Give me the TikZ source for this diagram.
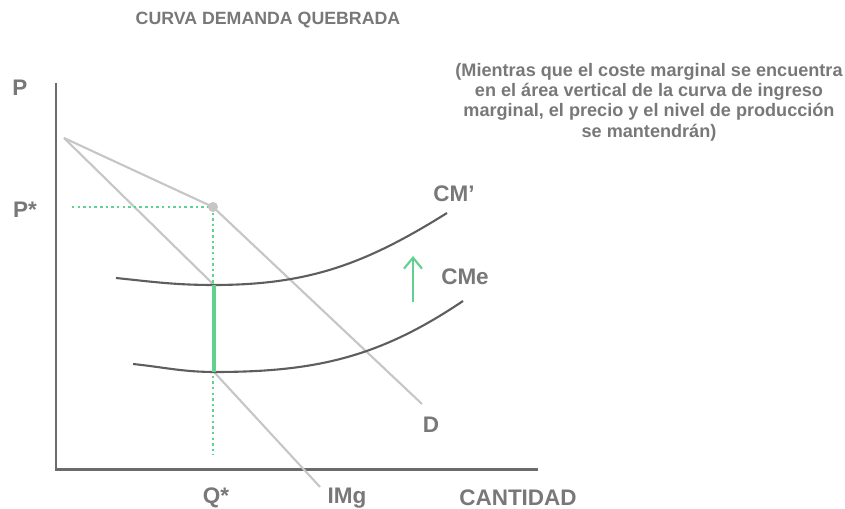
\documentclass[tikz,border=0pt]{standalone}
\usepackage{fontspec}
\setmainfont{Liberation Sans}
\usepackage{xcolor}
\usetikzlibrary{arrows.meta, positioning}

\definecolor{axisgray}{HTML}{6B6B6B}
\definecolor{curvegray}{HTML}{5E5E5E}
\definecolor{demgray}{HTML}{C6C6C6}
\definecolor{labelgray}{HTML}{787878}
\definecolor{mint}{HTML}{62D08F}

\begin{document}
\begin{tikzpicture}[
    x=0.02cm, y=0.02cm,
    axis/.style={draw=axisgray, line width=1.7pt},
    costcurve/.style={draw=curvegray, line width=1.2pt},
    demand/.style={draw=demgray, line width=1.2pt},
    guide/.style={draw=mint, line width=1.5pt, dash pattern=on 1.4pt off 1.8pt},
    gap/.style={draw=mint, line width=2.6pt},
    shift arrow/.style={-{Straight Barb[length=2.2mm, width=3.6mm]}, draw=mint, line width=1.2pt},
    lbl/.style={text=labelgray, font=\fontsize{12.8}{15}\selectfont\bfseries, inner sep=0pt},
    note/.style={text=labelgray, font=\fontsize{10.3}{11.6}\selectfont\bfseries, align=center, inner sep=0pt}
]
\useasboundingbox (0,0) rectangle (845,509);

% Title and note
\node[lbl, font=\fontsize{10.1}{12}\selectfont\bfseries] (title) at (268,489) {CURVA DEMANDA QUEBRADA};
\node[note] (note) at (649,407) {(Mientras que el coste marginal se encuentra\\en el área vertical de la curva de ingreso\\marginal, el precio y el nivel de producción\\se mantendrán)};

% Axes
\coordinate (top) at (56,426);
\coordinate (origin) at (56,39);
\coordinate (right) at (538,39);
\draw[axis] (top) -- (origin) -- (right);

% Kinked demand and marginal revenue
\coordinate (dstart) at (64,371);
\coordinate (kink) at (213,302);
\coordinate (dend) at (422,105);
\coordinate (gaptop) at (214,224);
\coordinate (gapbot) at (214,137);
\coordinate (imgend) at (320,22);
\draw[demand] (dstart) -- (kink) -- (dend);
\draw[demand] (dstart) -- (gaptop) -- (gapbot) -- (imgend);

% Guides to P* and Q*
\coordinate (pstar) at (72,302);
\coordinate (qstar) at (213,54);
\draw[guide] (pstar) -- (kink);
\draw[guide] (kink) -- (qstar);
\fill[demgray] (kink) circle (5);

% Marginal cost curves
\coordinate (cm1a) at (116,231);
\coordinate (cm1b) at (447,296);
\coordinate (cm0a) at (133,145);
\coordinate (cm0min) at (215,137);
\coordinate (cm0b) at (463,208);
\draw[costcurve] (cm1a) to[out=-6, in=180] (gaptop) to[out=0, in=212] (cm1b);
\draw[costcurve] (cm0a) to[out=-6, in=180] (cm0min) to[out=0, in=214] (cm0b);

% Vertical gap of IMg
\draw[gap] (gaptop) -- (gapbot);

% Shift arrow
\coordinate (arrowfrom) at (413,207);
\coordinate (arrowto) at (413,253);
\draw[shift arrow] (arrowfrom) -- (arrowto);

% Labels
\node[lbl] (plabel) at (20,421) {P};
\node[lbl] (pstarlabel) at (25,299) {P*};
\node[lbl] (qstarlabel) at (216,11) {Q*};
\node[lbl] (imglabel) at (347,11) {IMg};
\node[lbl] (qlabel) at (518,11) {CANTIDAD};
\node[lbl] (dlabel) at (431,84) {D};
\node[lbl] (cm1label) at (454,315) {CM’};
\node[lbl] (cm0label) at (465,232) {CMe};

\end{tikzpicture}
\end{document}
